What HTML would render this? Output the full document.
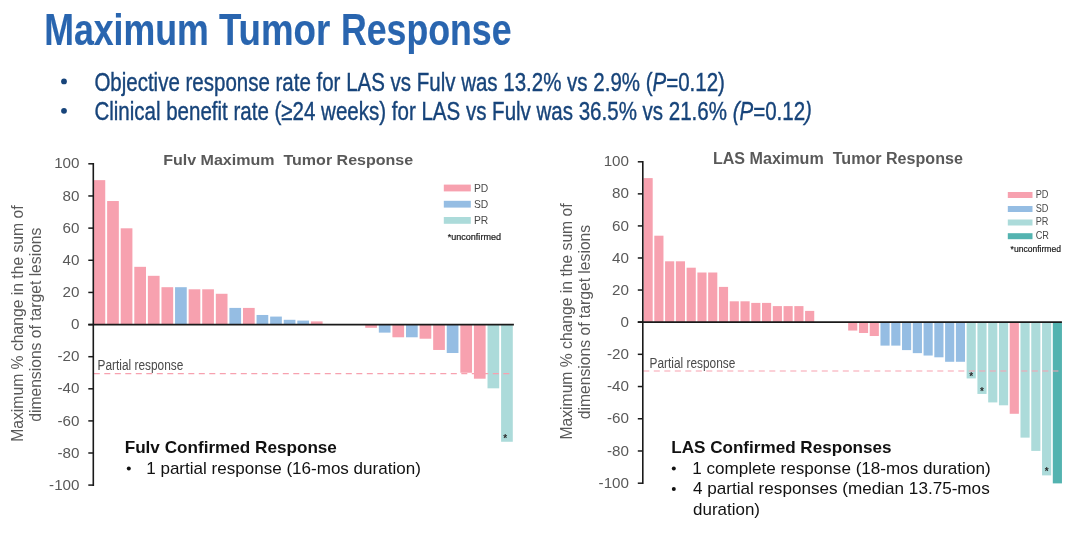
<!DOCTYPE html>
<html><head><meta charset="utf-8"><title>Maximum Tumor Response</title>
<style>
html,body{margin:0;padding:0;background:#fff}
body{width:1080px;height:533px;overflow:hidden;font-family:"Liberation Sans",sans-serif}
svg{display:block}
text{font-family:"Liberation Sans",sans-serif;white-space:pre}
</style></head><body>
<svg width="1080" height="533" viewBox="0 0 1080 533">
<rect width="1080" height="533" fill="#fff"/>
<text x="44.2" y="44.8" font-size="43.5" fill="#2965AF" font-weight="bold" text-anchor="start" xml:space="preserve" textLength="164.5" lengthAdjust="spacingAndGlyphs" stroke="#2965AF" stroke-width="0.15">Maximum</text>
<text x="218.9" y="44.8" font-size="43.5" fill="#2965AF" font-weight="bold" text-anchor="start" xml:space="preserve" textLength="111.3" lengthAdjust="spacingAndGlyphs" stroke="#2965AF" stroke-width="0.15">Tumor</text>
<text x="341.0" y="44.8" font-size="43.5" fill="#2965AF" font-weight="bold" text-anchor="start" xml:space="preserve" textLength="170.5" lengthAdjust="spacingAndGlyphs" stroke="#2965AF" stroke-width="0.15">Response</text>
<circle cx="64" cy="81.4" r="2.9" fill="#17447A"/>
<circle cx="64" cy="110.8" r="2.9" fill="#17447A"/>
<text x="94.4" y="91.0" font-size="25.7" fill="#17447A" font-weight="normal" text-anchor="start" xml:space="preserve" textLength="630.5" lengthAdjust="spacingAndGlyphs" stroke="#17447A" stroke-width="0.4">Objective response rate for LAS vs Fulv was 13.2% vs 2.9% (<tspan font-style="italic">P</tspan>=0.12)</text>
<text x="94.4" y="120.4" font-size="25.7" fill="#17447A" font-weight="normal" text-anchor="start" xml:space="preserve" textLength="717.5" lengthAdjust="spacingAndGlyphs" stroke="#17447A" stroke-width="0.4">Clinical benefit rate (≥24 weeks) for LAS vs Fulv was 36.5% vs 21.6% <tspan font-style="italic">(P</tspan>=0.12<tspan font-style="italic">)</tspan></text>
<rect x="93.54" y="180.15" width="11.70" height="144.45" fill="#F7A1AF"/>
<rect x="107.13" y="201.02" width="11.70" height="123.58" fill="#F7A1AF"/>
<rect x="120.71" y="228.30" width="11.70" height="96.30" fill="#F7A1AF"/>
<rect x="134.30" y="266.82" width="11.70" height="57.78" fill="#F7A1AF"/>
<rect x="147.88" y="275.81" width="11.70" height="48.79" fill="#F7A1AF"/>
<rect x="161.47" y="287.20" width="11.70" height="37.40" fill="#F7A1AF"/>
<rect x="175.05" y="287.20" width="11.70" height="37.40" fill="#95BDE3"/>
<rect x="188.64" y="289.29" width="11.70" height="35.31" fill="#F7A1AF"/>
<rect x="202.22" y="289.29" width="11.70" height="35.31" fill="#F7A1AF"/>
<rect x="215.81" y="293.78" width="11.70" height="30.82" fill="#F7A1AF"/>
<rect x="229.39" y="307.91" width="11.70" height="16.69" fill="#95BDE3"/>
<rect x="242.98" y="307.91" width="11.70" height="16.69" fill="#F7A1AF"/>
<rect x="256.56" y="314.97" width="11.70" height="9.63" fill="#95BDE3"/>
<rect x="270.15" y="316.58" width="11.70" height="8.03" fill="#95BDE3"/>
<rect x="283.73" y="319.79" width="11.70" height="4.81" fill="#95BDE3"/>
<rect x="297.32" y="320.59" width="11.70" height="4.01" fill="#95BDE3"/>
<rect x="310.90" y="321.39" width="11.70" height="3.21" fill="#F7A1AF"/>
<rect x="365.24" y="324.60" width="11.70" height="3.21" fill="#F7A1AF"/>
<rect x="378.83" y="324.60" width="11.70" height="8.03" fill="#95BDE3"/>
<rect x="392.41" y="324.60" width="11.70" height="12.68" fill="#F7A1AF"/>
<rect x="406.00" y="324.60" width="11.70" height="12.68" fill="#95BDE3"/>
<rect x="419.58" y="324.60" width="11.70" height="14.12" fill="#F7A1AF"/>
<rect x="433.17" y="324.60" width="11.70" height="25.36" fill="#F7A1AF"/>
<rect x="446.75" y="324.60" width="11.70" height="28.41" fill="#95BDE3"/>
<rect x="460.34" y="324.60" width="11.70" height="48.15" fill="#F7A1AF"/>
<rect x="473.92" y="324.60" width="11.70" height="54.09" fill="#F7A1AF"/>
<rect x="487.51" y="324.60" width="11.70" height="63.72" fill="#ACDBDA"/>
<rect x="501.09" y="324.60" width="11.70" height="117.16" fill="#ACDBDA"/>
<line x1="93.8" y1="373.6" x2="510" y2="373.6" stroke="#F7A1AF" stroke-width="1.15" stroke-dasharray="6 4.5"/>
<line x1="88.3" y1="324.6" x2="513.9" y2="324.6" stroke="#1a1a1a" stroke-width="1.6"/>
<line x1="93.3" y1="163.00" x2="93.3" y2="485.90" stroke="#1a1a1a" stroke-width="1.6"/>
<line x1="88.3" y1="485.10" x2="93.3" y2="485.10" stroke="#1a1a1a" stroke-width="1.5"/>
<text x="79.5" y="489.70" font-size="15.2" fill="#595959" font-weight="normal" text-anchor="end" xml:space="preserve">-100</text>
<line x1="88.3" y1="453.00" x2="93.3" y2="453.00" stroke="#1a1a1a" stroke-width="1.5"/>
<text x="79.5" y="457.60" font-size="15.2" fill="#595959" font-weight="normal" text-anchor="end" xml:space="preserve">-80</text>
<line x1="88.3" y1="420.90" x2="93.3" y2="420.90" stroke="#1a1a1a" stroke-width="1.5"/>
<text x="79.5" y="425.50" font-size="15.2" fill="#595959" font-weight="normal" text-anchor="end" xml:space="preserve">-60</text>
<line x1="88.3" y1="388.80" x2="93.3" y2="388.80" stroke="#1a1a1a" stroke-width="1.5"/>
<text x="79.5" y="393.40" font-size="15.2" fill="#595959" font-weight="normal" text-anchor="end" xml:space="preserve">-40</text>
<line x1="88.3" y1="356.70" x2="93.3" y2="356.70" stroke="#1a1a1a" stroke-width="1.5"/>
<text x="79.5" y="361.30" font-size="15.2" fill="#595959" font-weight="normal" text-anchor="end" xml:space="preserve">-20</text>
<line x1="88.3" y1="324.60" x2="93.3" y2="324.60" stroke="#1a1a1a" stroke-width="1.5"/>
<text x="79.5" y="329.20" font-size="15.2" fill="#595959" font-weight="normal" text-anchor="end" xml:space="preserve">0</text>
<line x1="88.3" y1="292.44" x2="93.3" y2="292.44" stroke="#1a1a1a" stroke-width="1.5"/>
<text x="79.5" y="297.04" font-size="15.2" fill="#595959" font-weight="normal" text-anchor="end" xml:space="preserve">20</text>
<line x1="88.3" y1="260.28" x2="93.3" y2="260.28" stroke="#1a1a1a" stroke-width="1.5"/>
<text x="79.5" y="264.88" font-size="15.2" fill="#595959" font-weight="normal" text-anchor="end" xml:space="preserve">40</text>
<line x1="88.3" y1="228.12" x2="93.3" y2="228.12" stroke="#1a1a1a" stroke-width="1.5"/>
<text x="79.5" y="232.72" font-size="15.2" fill="#595959" font-weight="normal" text-anchor="end" xml:space="preserve">60</text>
<line x1="88.3" y1="195.96" x2="93.3" y2="195.96" stroke="#1a1a1a" stroke-width="1.5"/>
<text x="79.5" y="200.56" font-size="15.2" fill="#595959" font-weight="normal" text-anchor="end" xml:space="preserve">80</text>
<line x1="88.3" y1="163.80" x2="93.3" y2="163.80" stroke="#1a1a1a" stroke-width="1.5"/>
<text x="79.5" y="168.40" font-size="15.2" fill="#595959" font-weight="normal" text-anchor="end" xml:space="preserve">100</text>
<text x="163.2" y="165" font-size="15.1" fill="#595959" font-weight="bold" text-anchor="start" xml:space="preserve" textLength="250" lengthAdjust="spacingAndGlyphs">Fulv Maximum  Tumor Response</text>
<text x="97.5" y="370.0" font-size="13.8" fill="#4a4a4a" font-weight="normal" text-anchor="start" xml:space="preserve" textLength="85.8" lengthAdjust="spacingAndGlyphs">Partial response</text>
<text transform="translate(23.1,441.8) rotate(-90)" font-size="15.6" fill="#595959" textLength="236.4" lengthAdjust="spacingAndGlyphs">Maximum % change in the sum of</text>
<text transform="translate(40.5,421.8) rotate(-90)" font-size="15.6" fill="#595959" textLength="194.2" lengthAdjust="spacingAndGlyphs">dimensions of target lesions</text>
<text x="505.1" y="441.5" font-size="10" fill="#2a2a2a" font-weight="bold" text-anchor="middle" xml:space="preserve">*</text>
<rect x="643.54" y="178.10" width="9.15" height="144.00" fill="#F7A1AF"/>
<rect x="654.31" y="235.70" width="9.15" height="86.40" fill="#F7A1AF"/>
<rect x="665.08" y="261.30" width="9.15" height="60.80" fill="#F7A1AF"/>
<rect x="675.85" y="261.30" width="9.15" height="60.80" fill="#F7A1AF"/>
<rect x="686.62" y="267.70" width="9.15" height="54.40" fill="#F7A1AF"/>
<rect x="697.39" y="272.50" width="9.15" height="49.60" fill="#F7A1AF"/>
<rect x="708.16" y="272.50" width="9.15" height="49.60" fill="#F7A1AF"/>
<rect x="718.93" y="286.90" width="9.15" height="35.20" fill="#F7A1AF"/>
<rect x="729.70" y="301.30" width="9.15" height="20.80" fill="#F7A1AF"/>
<rect x="740.47" y="301.30" width="9.15" height="20.80" fill="#F7A1AF"/>
<rect x="751.24" y="302.90" width="9.15" height="19.20" fill="#F7A1AF"/>
<rect x="762.01" y="302.90" width="9.15" height="19.20" fill="#F7A1AF"/>
<rect x="772.78" y="306.10" width="9.15" height="16.00" fill="#F7A1AF"/>
<rect x="783.55" y="306.10" width="9.15" height="16.00" fill="#F7A1AF"/>
<rect x="794.32" y="306.10" width="9.15" height="16.00" fill="#F7A1AF"/>
<rect x="805.09" y="310.90" width="9.15" height="11.20" fill="#F7A1AF"/>
<rect x="848.17" y="322.10" width="9.15" height="8.48" fill="#F7A1AF"/>
<rect x="858.94" y="322.10" width="9.15" height="10.88" fill="#F7A1AF"/>
<rect x="869.71" y="322.10" width="9.15" height="13.92" fill="#F7A1AF"/>
<rect x="880.48" y="322.10" width="9.15" height="23.52" fill="#95BDE3"/>
<rect x="891.25" y="322.10" width="9.15" height="23.52" fill="#95BDE3"/>
<rect x="902.02" y="322.10" width="9.15" height="28.00" fill="#95BDE3"/>
<rect x="912.79" y="322.10" width="9.15" height="31.04" fill="#95BDE3"/>
<rect x="923.56" y="322.10" width="9.15" height="33.44" fill="#95BDE3"/>
<rect x="934.33" y="322.10" width="9.15" height="35.20" fill="#95BDE3"/>
<rect x="945.10" y="322.10" width="9.15" height="39.68" fill="#95BDE3"/>
<rect x="955.87" y="322.10" width="9.15" height="39.68" fill="#95BDE3"/>
<rect x="966.64" y="322.10" width="9.15" height="56.32" fill="#ACDBDA"/>
<rect x="977.41" y="322.10" width="9.15" height="71.84" fill="#ACDBDA"/>
<rect x="988.18" y="322.10" width="9.15" height="80.32" fill="#ACDBDA"/>
<rect x="998.95" y="322.10" width="9.15" height="83.20" fill="#ACDBDA"/>
<rect x="1009.72" y="322.10" width="9.15" height="91.68" fill="#F7A1AF"/>
<rect x="1020.49" y="322.10" width="9.15" height="115.52" fill="#ACDBDA"/>
<rect x="1031.26" y="322.10" width="9.15" height="128.80" fill="#ACDBDA"/>
<rect x="1042.03" y="322.10" width="9.15" height="153.28" fill="#ACDBDA"/>
<rect x="1052.80" y="322.10" width="9.15" height="161.28" fill="#53B3B0"/>
<line x1="643.3" y1="371" x2="1058.4" y2="371" stroke="#F7A1AF" stroke-width="1.15" stroke-dasharray="6 4.5"/>
<line x1="637.8" y1="322.1" x2="1061.9" y2="322.1" stroke="#1a1a1a" stroke-width="1.6"/>
<line x1="642.8" y1="161.00" x2="642.8" y2="484.00" stroke="#1a1a1a" stroke-width="1.6"/>
<line x1="637.8" y1="483.20" x2="642.8" y2="483.20" stroke="#1a1a1a" stroke-width="1.5"/>
<text x="629" y="487.80" font-size="15.2" fill="#595959" font-weight="normal" text-anchor="end" xml:space="preserve">-100</text>
<line x1="637.8" y1="450.98" x2="642.8" y2="450.98" stroke="#1a1a1a" stroke-width="1.5"/>
<text x="629" y="455.58" font-size="15.2" fill="#595959" font-weight="normal" text-anchor="end" xml:space="preserve">-80</text>
<line x1="637.8" y1="418.76" x2="642.8" y2="418.76" stroke="#1a1a1a" stroke-width="1.5"/>
<text x="629" y="423.36" font-size="15.2" fill="#595959" font-weight="normal" text-anchor="end" xml:space="preserve">-60</text>
<line x1="637.8" y1="386.54" x2="642.8" y2="386.54" stroke="#1a1a1a" stroke-width="1.5"/>
<text x="629" y="391.14" font-size="15.2" fill="#595959" font-weight="normal" text-anchor="end" xml:space="preserve">-40</text>
<line x1="637.8" y1="354.32" x2="642.8" y2="354.32" stroke="#1a1a1a" stroke-width="1.5"/>
<text x="629" y="358.92" font-size="15.2" fill="#595959" font-weight="normal" text-anchor="end" xml:space="preserve">-20</text>
<line x1="637.8" y1="322.10" x2="642.8" y2="322.10" stroke="#1a1a1a" stroke-width="1.5"/>
<text x="629" y="326.70" font-size="15.2" fill="#595959" font-weight="normal" text-anchor="end" xml:space="preserve">0</text>
<line x1="637.8" y1="290.04" x2="642.8" y2="290.04" stroke="#1a1a1a" stroke-width="1.5"/>
<text x="629" y="294.64" font-size="15.2" fill="#595959" font-weight="normal" text-anchor="end" xml:space="preserve">20</text>
<line x1="637.8" y1="257.98" x2="642.8" y2="257.98" stroke="#1a1a1a" stroke-width="1.5"/>
<text x="629" y="262.58" font-size="15.2" fill="#595959" font-weight="normal" text-anchor="end" xml:space="preserve">40</text>
<line x1="637.8" y1="225.92" x2="642.8" y2="225.92" stroke="#1a1a1a" stroke-width="1.5"/>
<text x="629" y="230.52" font-size="15.2" fill="#595959" font-weight="normal" text-anchor="end" xml:space="preserve">60</text>
<line x1="637.8" y1="193.86" x2="642.8" y2="193.86" stroke="#1a1a1a" stroke-width="1.5"/>
<text x="629" y="198.46" font-size="15.2" fill="#595959" font-weight="normal" text-anchor="end" xml:space="preserve">80</text>
<line x1="637.8" y1="161.80" x2="642.8" y2="161.80" stroke="#1a1a1a" stroke-width="1.5"/>
<text x="629" y="166.40" font-size="15.2" fill="#595959" font-weight="normal" text-anchor="end" xml:space="preserve">100</text>
<text x="712.9" y="163.7" font-size="15.8" fill="#595959" font-weight="bold" text-anchor="start" xml:space="preserve" textLength="250" lengthAdjust="spacingAndGlyphs">LAS Maximum  Tumor Response</text>
<text x="649.5" y="367.5" font-size="13.8" fill="#4a4a4a" font-weight="normal" text-anchor="start" xml:space="preserve" textLength="85.8" lengthAdjust="spacingAndGlyphs">Partial response</text>
<text transform="translate(572,439.5) rotate(-90)" font-size="15.6" fill="#595959" textLength="236.1" lengthAdjust="spacingAndGlyphs">Maximum % change in the sum of</text>
<text transform="translate(590,419.3) rotate(-90)" font-size="15.6" fill="#595959" textLength="194.5" lengthAdjust="spacingAndGlyphs">dimensions of target lesions</text>
<text x="971.2" y="379.5" font-size="10" fill="#2a2a2a" font-weight="bold" text-anchor="middle" xml:space="preserve">*</text>
<text x="982" y="394.5" font-size="10" fill="#2a2a2a" font-weight="bold" text-anchor="middle" xml:space="preserve">*</text>
<text x="1046.6" y="474.9" font-size="10" fill="#2a2a2a" font-weight="bold" text-anchor="middle" xml:space="preserve">*</text>
<rect x="443.8" y="184.6" width="27" height="6.8" fill="#F7A1AF"/>
<text x="474" y="191.9" font-size="10.3" fill="#4a4a4a" font-weight="normal" text-anchor="start" xml:space="preserve" textLength="14.31" lengthAdjust="spacingAndGlyphs">PD</text>
<rect x="443.8" y="200.8" width="27" height="6.8" fill="#95BDE3"/>
<text x="474" y="208.10000000000002" font-size="10.3" fill="#4a4a4a" font-weight="normal" text-anchor="start" xml:space="preserve" textLength="14.31" lengthAdjust="spacingAndGlyphs">SD</text>
<rect x="443.8" y="217" width="27" height="6.8" fill="#ACDBDA"/>
<text x="474" y="224.3" font-size="10.3" fill="#4a4a4a" font-weight="normal" text-anchor="start" xml:space="preserve" textLength="14.31" lengthAdjust="spacingAndGlyphs">PR</text>
<text x="447.7" y="240.3" font-size="9" fill="#1a1a1a" font-weight="normal" text-anchor="start" xml:space="preserve" textLength="53.3" lengthAdjust="spacingAndGlyphs" stroke="#1a1a1a" stroke-width="0.2">*unconfirmed</text>
<rect x="1007.8" y="192" width="24.7" height="6" fill="#F7A1AF"/>
<text x="1035.7" y="197.5" font-size="10" fill="#4a4a4a" font-weight="normal" text-anchor="start" xml:space="preserve" textLength="12.78" lengthAdjust="spacingAndGlyphs">PD</text>
<rect x="1007.8" y="206" width="24.7" height="6" fill="#95BDE3"/>
<text x="1035.7" y="211.5" font-size="10" fill="#4a4a4a" font-weight="normal" text-anchor="start" xml:space="preserve" textLength="12.78" lengthAdjust="spacingAndGlyphs">SD</text>
<rect x="1007.8" y="219.5" width="24.7" height="6" fill="#ACDBDA"/>
<text x="1035.7" y="225.0" font-size="10" fill="#4a4a4a" font-weight="normal" text-anchor="start" xml:space="preserve" textLength="12.78" lengthAdjust="spacingAndGlyphs">PR</text>
<rect x="1007.8" y="233.2" width="24.7" height="6" fill="#53B3B0"/>
<text x="1035.7" y="238.7" font-size="10" fill="#4a4a4a" font-weight="normal" text-anchor="start" xml:space="preserve" textLength="13.28" lengthAdjust="spacingAndGlyphs">CR</text>
<text x="1010.6" y="252" font-size="8.6" fill="#1a1a1a" font-weight="normal" text-anchor="start" xml:space="preserve" textLength="50.4" lengthAdjust="spacingAndGlyphs" stroke="#1a1a1a" stroke-width="0.2">*unconfirmed</text>
<text x="124.7" y="453.1" font-size="17" fill="#111" font-weight="bold" text-anchor="start" xml:space="preserve" textLength="212.2" lengthAdjust="spacingAndGlyphs">Fulv Confirmed Response</text>
<circle cx="128.8" cy="468.5" r="2.0" fill="#111"/>
<text x="146.2" y="473.9" font-size="17" fill="#111" font-weight="normal" text-anchor="start" xml:space="preserve" textLength="274.7" lengthAdjust="spacingAndGlyphs">1 partial response (16-mos duration)</text>
<text x="671.2" y="453.3" font-size="17" fill="#111" font-weight="bold" text-anchor="start" xml:space="preserve" textLength="220.4" lengthAdjust="spacingAndGlyphs">LAS Confirmed Responses</text>
<circle cx="673.8" cy="468.5" r="2.0" fill="#111"/>
<text x="692.2" y="473.8" font-size="17" fill="#111" font-weight="normal" text-anchor="start" xml:space="preserve" textLength="298.4" lengthAdjust="spacingAndGlyphs">1 complete response (18-mos duration)</text>
<circle cx="673.8" cy="489" r="2.0" fill="#111"/>
<text x="693" y="494.3" font-size="17" fill="#111" font-weight="normal" text-anchor="start" xml:space="preserve" textLength="296.7" lengthAdjust="spacingAndGlyphs">4 partial responses (median 13.75-mos</text>
<text x="693" y="514.7" font-size="17" fill="#111" font-weight="normal" text-anchor="start" xml:space="preserve" textLength="67" lengthAdjust="spacingAndGlyphs">duration)</text>
</svg>
</body></html>
